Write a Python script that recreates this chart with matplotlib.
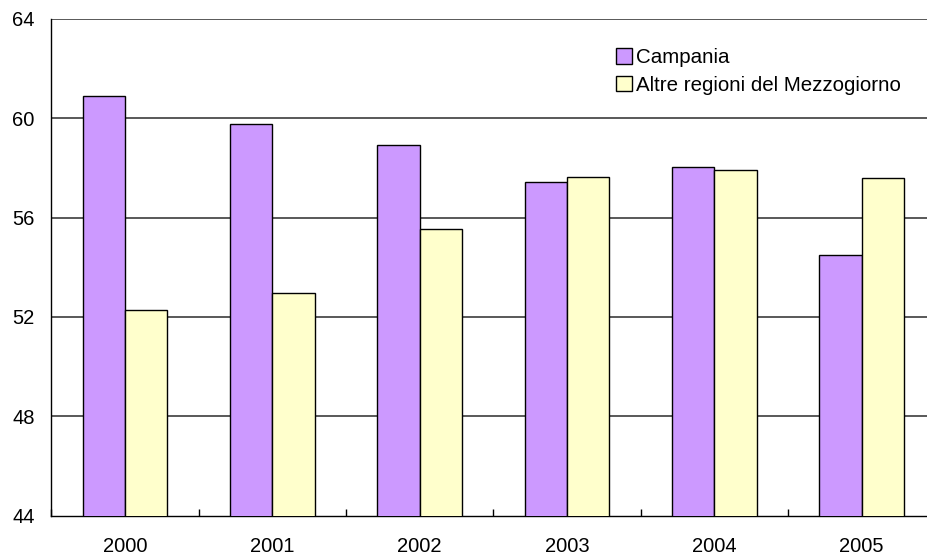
import matplotlib
matplotlib.use("Agg")
import matplotlib.pyplot as plt
import numpy as np

plt.rcParams['font.family'] = ['Liberation Sans', 'DejaVu Sans']

years = ["2000", "2001", "2002", "2003", "2004", "2005"]
campania = [60.89, 59.77, 58.92, 57.41, 58.03, 54.51]
altre = [52.26, 52.96, 55.54, 57.63, 57.91, 57.59]
series_names = ["Campania", "Altre regioni del Mezzogiorno"]
yticks = [44, 48, 52, 56, 60, 64]

W, H = 928, 555
fig = plt.figure(figsize=(W / 100, H / 100), dpi=100)
left, right, top, bottom = 51.3, 935.3, 18.7, 515.7
ax = fig.add_axes([left / W, 1 - bottom / H, (right - left) / W, (bottom - top) / H])

x = np.arange(len(years))
bw = 0.287
ax.bar(x - bw / 2, campania, bw, color="#CC99FF", edgecolor="black", linewidth=1.0,
       label=series_names[0], zorder=3)
ax.bar(x + bw / 2, altre, bw, color="#FFFFCC", edgecolor="black", linewidth=1.0,
       label=series_names[1], zorder=3)

ax.set_xlim(-0.5, len(years) - 0.5)
ax.set_ylim(44, 64)
ax.set_yticks(yticks)
ax.set_yticklabels([str(v) for v in yticks])
ax.set_xticks(x)
ax.set_xticklabels(years)
ax.set_xticks(np.arange(len(years)) - 0.5, minor=True)
ax.tick_params(axis='x', which='major', length=0, pad=15, labelsize=14.5)
ax.tick_params(axis='x', which='minor', direction='in', length=5, width=1, color='black')
ax.tick_params(axis='y', length=0, pad=12, labelsize=14.5)

for v in yticks[1:]:
    ax.axhline(v, color="#2b2b2b", linewidth=1.1, zorder=1)

for s in ['right', 'top']:
    ax.spines[s].set_visible(False)
for s in ['left', 'bottom']:
    ax.spines[s].set_color('black')
    ax.spines[s].set_linewidth(1.0)

leg = ax.legend(loc='upper left', bbox_to_anchor=(616 / W, 1 - 48 / H),
                bbox_transform=fig.transFigure, frameon=False, fontsize=14.8,
                handlelength=0.78, handleheight=0.78, handletextpad=0.2,
                labelspacing=0.42, borderpad=0, borderaxespad=0)

fig.savefig("out.png", dpi=100)
